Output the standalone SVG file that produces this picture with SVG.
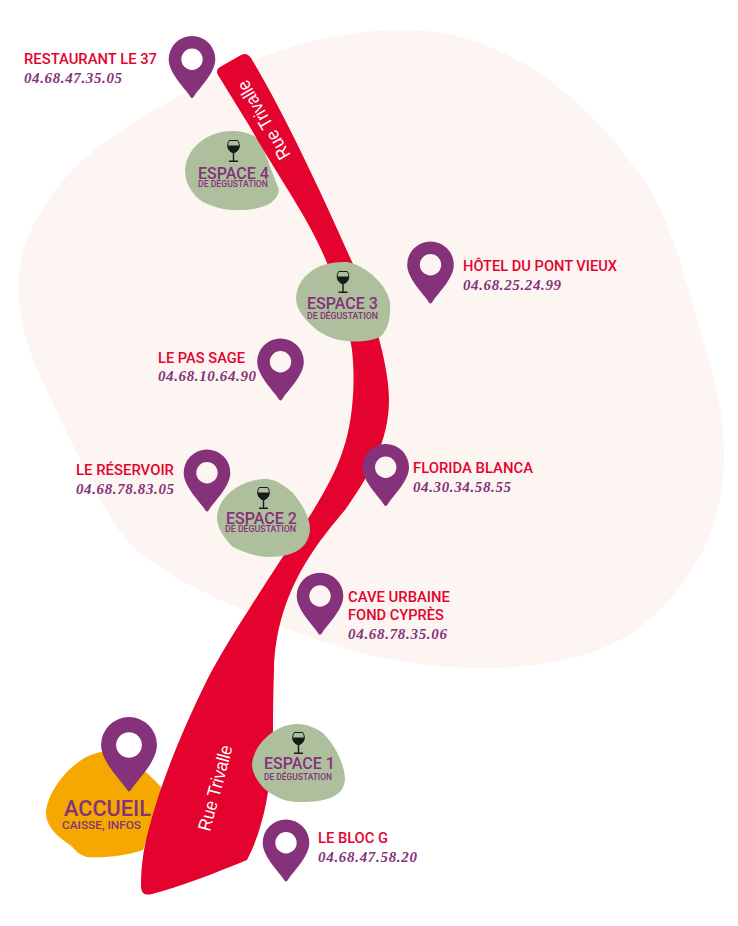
<svg xmlns="http://www.w3.org/2000/svg" width="738" height="926" viewBox="0 0 738 926">
<style>
.name{font-family:"Roboto","Liberation Sans",sans-serif;font-weight:500;font-size:15px;fill:#e4032e}
.tel{font-family:"Liberation Serif",serif;font-style:italic;font-weight:bold;font-size:15px;fill:#85327a}
.sp{font-family:"Roboto","Liberation Sans",sans-serif;font-weight:500;font-size:16.5px;fill:#85327a}
.sub{font-family:"Roboto","Liberation Sans",sans-serif;font-weight:500;font-size:8.300px;fill:#85327a}
.street{font-family:"Liberation Sans",sans-serif;font-size:18.500px;fill:#fff}
.blob{fill:#aebf9e}
.pin{fill:#85327a;fill-rule:evenodd}
</style>
<defs>
<path id="pinshape" class="pin" d="M0,38.700C-1,38.700 -2,37 -3,35.500C-9,27 -23.300,13 -23.300,0A23.300,23.300 0 0 1 23.300,0C23.300,13 9,27 3,35.500C2,37 1,38.700 0,38.700ZM-10.700,0A10.700,10.700 0 0 0 10.700,0A10.700,10.700 0 0 0 -10.700,0Z"/>
<g id="glass">
<path d="M-4.200,-10.500H4.200C6.800,-7 6.800,-0.500 0,2C-6.800,-0.500 -6.800,-7 -4.200,-10.500Z" fill="none" stroke="#1a1a1a" stroke-width="1"/>
<path d="M-5.800,-5.500H5.800C6,-2 4,1 0,2C-4,1 -6,-2 -5.800,-5.500Z" fill="#1a1a1a"/>
<path d="M0,2V10M-4.500,10.300H4.500" fill="none" stroke="#1a1a1a" stroke-width="1.400"/>
</g>
</defs>
<path id="background" fill="#fdf5f2" d="M18,287C18,235 55,170 130,125C210,75 300,30 402,30C500,28 590,95 652,193C672,225 690,295 706,350C718,390 725,425 724,460C723,530 690,590 636,630C590,662 530,668 479,668C400,668 320,645 267,620C220,600 170,580 133,547C110,525 90,480 67,433C45,385 18,340 18,287Z"/>
<g id="accueil">
<path fill="#f5a800" d="M46,813C47,790 75,755 102,752C125,750 150,775 162,788L143,850C125,856 105,858 87,857C78,855 75,849 70,845C55,835 46,825 46,813Z"/>
<use href="#pinshape" transform="translate(129,745) scale(1.200)"/>
<text class="sp" style="font-size:22.5px" x="64" y="816" textLength="87" lengthAdjust="spacingAndGlyphs">ACCUEIL</text>
<text class="sub" style="font-size:11.500px" x="62" y="829" textLength="79" lengthAdjust="spacingAndGlyphs">CAISSE, INFOS</text>
</g>
<g id="espace4">
<path class="blob" d="M185,170C186,150 205,131 233,131C245,131 253,135 260,140L279,190C278,197 273,202 267,205C255,210 245,210 233,210C222,210 212,206 203,202C192,195 185,183 185,170Z"/>
<use href="#glass" transform="translate(233.500,151)"/>
</g>
<g id="connectors">
<path id="road" fill="#e4032e" d="M218,75C216,71 217,69 220,67L241,55C245,53 248,54 251,58C285,115 320,190 352,262C368,298 389,360 389,400C389,440 370,475 345,510C320,540 276,590 274,670C273,700 273,720 273,733C272,770 268,820 247,860C215,873 180,887 152,894C144,896 141,893 141,885C141,870 143,850 148,832C160,785 180,735 207,680C225,645 255,600 282,558C300,530 330,490 343,450C352,425 356,385 352,350C347,315 338,292 327,263C310,220 280,180 250,127L218,75Z"/>
</g>
<text id="street-top" class="street" transform="translate(291,155) rotate(-120)" textLength="88" lengthAdjust="spacingAndGlyphs">Rue Trivalle</text>
<text id="street-bottom" class="street" transform="translate(210,832) rotate(-75)" textLength="88" lengthAdjust="spacingAndGlyphs">Rue Trivalle</text>
<g id="espace4-label">
<text class="sp" x="198" y="178.500" textLength="71" lengthAdjust="spacingAndGlyphs">ESPACE 4</text>
<text class="sub" x="198" y="187" textLength="70" lengthAdjust="spacingAndGlyphs">DE DÉGUSTATION</text>
</g>
<g id="espace3">
<path class="blob" d="M296,298C297,285 303,277 313,270C323,263 335,262 347,262C365,265 388,285 390,303C391,318 388,330 380,337C368,342 358,342 347,341C335,340 325,336 317,330C305,320 296,310 296,298Z"/>
<use href="#glass" transform="translate(343,282)"/>
<text class="sp" x="307" y="309" textLength="71" lengthAdjust="spacingAndGlyphs">ESPACE 3</text>
<text class="sub" x="307" y="319" textLength="71" lengthAdjust="spacingAndGlyphs">DE DÉGUSTATION</text>
</g>
<g id="espace2">
<path class="blob" d="M217,517C218,497 240,479 267,479C278,480 286,487 293,493C303,505 310,518 310,530C309,541 303,549 293,553C285,556 276,557 267,557C254,556 243,552 233,547C226,540 217,530 217,517Z"/>
<use href="#glass" transform="translate(263.500,498)"/>
<text class="sp" x="226" y="523.500" textLength="71" lengthAdjust="spacingAndGlyphs">ESPACE 2</text>
<text class="sub" x="225" y="532" textLength="71" lengthAdjust="spacingAndGlyphs">DE DÉGUSTATION</text>
</g>
<g id="espace1">
<path class="blob" d="M252,765C253,745 275,724 297,724C307,724 316,728 323,733C335,745 345,765 345,780C344,790 338,795 330,798C320,802 308,802 297,802C287,802 278,798 270,793C262,788 252,775 252,765Z"/>
<use href="#glass" transform="translate(298.500,743)"/>
<text class="sp" x="264" y="769" textLength="71" lengthAdjust="spacingAndGlyphs">ESPACE 1</text>
<text class="sub" x="264" y="780" textLength="68" lengthAdjust="spacingAndGlyphs">DE DÉGUSTATION</text>
</g>
<g id="restaurant-le-37">
<use href="#pinshape" transform="translate(192,59.300)"/>
<text class="name" x="24" y="64" textLength="133" lengthAdjust="spacingAndGlyphs">RESTAURANT LE 37</text>
<text class="tel" x="24" y="83" textLength="98">04.68.47.35.05</text>
</g>
<g id="hotel-du-pont-vieux">
<use href="#pinshape" transform="translate(430.500,264.700)"/>
<text class="name" x="463" y="271" textLength="154" lengthAdjust="spacingAndGlyphs">HÔTEL DU PONT VIEUX</text>
<text class="tel" x="463" y="290" textLength="98">04.68.25.24.99</text>
</g>
<g id="le-pas-sage">
<use href="#pinshape" transform="translate(280.500,361.700)"/>
<text class="name" x="158" y="363" textLength="87" lengthAdjust="spacingAndGlyphs">LE PAS SAGE</text>
<text class="tel" x="158" y="381" textLength="98">04.68.10.64.90</text>
</g>
<g id="le-reservoir">
<use href="#pinshape" transform="translate(207,472.700)"/>
<text class="name" x="76" y="475" textLength="98" lengthAdjust="spacingAndGlyphs">LE RÉSERVOIR</text>
<text class="tel" x="76" y="494" textLength="98">04.68.78.83.05</text>
</g>
<g id="florida-blanca">
<use href="#pinshape" transform="translate(385.700,467.300)"/>
<text class="name" x="413" y="473" textLength="120" lengthAdjust="spacingAndGlyphs">FLORIDA BLANCA</text>
<text class="tel" x="413" y="492" textLength="98">04.30.34.58.55</text>
</g>
<g id="cave-urbaine">
<use href="#pinshape" transform="translate(320,596)"/>
<text class="name" x="348" y="602" textLength="102" lengthAdjust="spacingAndGlyphs">CAVE URBAINE</text>
<text class="name" x="348" y="620" textLength="96" lengthAdjust="spacingAndGlyphs">FOND CYPRÈS</text>
<text class="tel" x="348" y="639" textLength="99">04.68.78.35.06</text>
</g>
<g id="le-bloc-g">
<use href="#pinshape" transform="translate(286,842.700)"/>
<text class="name" x="318" y="843" textLength="70" lengthAdjust="spacingAndGlyphs">LE BLOC G</text>
<text class="tel" x="318" y="862" textLength="99">04.68.47.58.20</text>
</g>
</svg>
